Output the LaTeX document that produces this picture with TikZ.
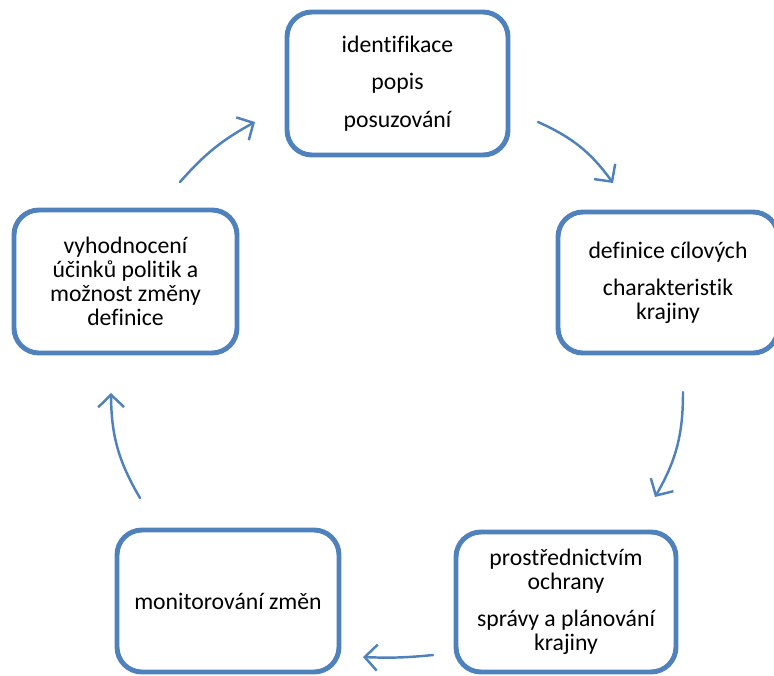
\documentclass[tikz,border=0pt]{standalone}
\usepackage{fontspec}
\setmainfont{Carlito}[Ligatures=NoCommon]
\usetikzlibrary{arrows.meta}
\definecolor{modra}{HTML}{4F81BD}
\tikzset{>={Straight Barb[length=2.5mm,width=5.2mm]}}
\tikzset{krok/.style={draw=modra, line width=2.8pt, rounded corners=0.5cm, fill=white,
  align=center, inner sep=0pt, font=\fontsize{13.5}{13.7}\selectfont},
  sipka/.style={->, draw=modra, line width=1.4pt, line cap=round}}

\begin{document}
\begin{tikzpicture}
\useasboundingbox (0,0) rectangle (15.48,-13.5);
\clip (0,0) rectangle (15.48,-13.5);
% kroky cyklu
\node[krok, minimum width=4.42cm, minimum height=2.86cm] (A) at (7.95,-1.67)
  {identifikace\\[7.5pt] popis\\[7.5pt] posuzování};
\node[krok, minimum width=4.40cm, minimum height=2.82cm] (B) at (13.36,-5.65)
  {definice cílových\\[7.5pt] charakteristik\\ krajiny};
\node[krok, minimum width=4.40cm, minimum height=2.80cm] (C) at (11.32,-12.04)
  {prostřednictvím\\ ochrany\\[7.5pt] správy a plánování\\ krajiny};
\node[krok, minimum width=4.44cm, minimum height=2.84cm] (D) at (4.56,-12.02)
  {monitorování změn};
\node[krok, minimum width=4.46cm, minimum height=2.86cm] (E) at (2.51,-5.63)
  {vyhodnocení\\ účinků politik a\\ možnost změny\\ definice};
% konce sipek
\coordinate (A1) at (10.76,-2.44); \coordinate (B0) at (12.26,-3.66);
\coordinate (B1) at (13.66,-7.84); \coordinate (C0) at (13.10,-9.94);
\coordinate (C1) at (8.66,-13.10); \coordinate (D0) at (7.26,-13.14);
\coordinate (D1) at (2.80,-9.96);  \coordinate (E0) at (2.22,-7.86);
\coordinate (E1) at (3.60,-3.64);  \coordinate (A0) at (5.10,-2.44);
\draw[sipka] (A1) to[bend left=15] (B0);
\draw[sipka] (B1) to[bend left=15] (C0);
\draw[sipka] (C1) to[bend left=4] (D0);
\draw[sipka] (D1) to[bend left=15] (E0);
\draw[sipka] (E1) to[bend left=10] (A0);
\end{tikzpicture}
\end{document}
